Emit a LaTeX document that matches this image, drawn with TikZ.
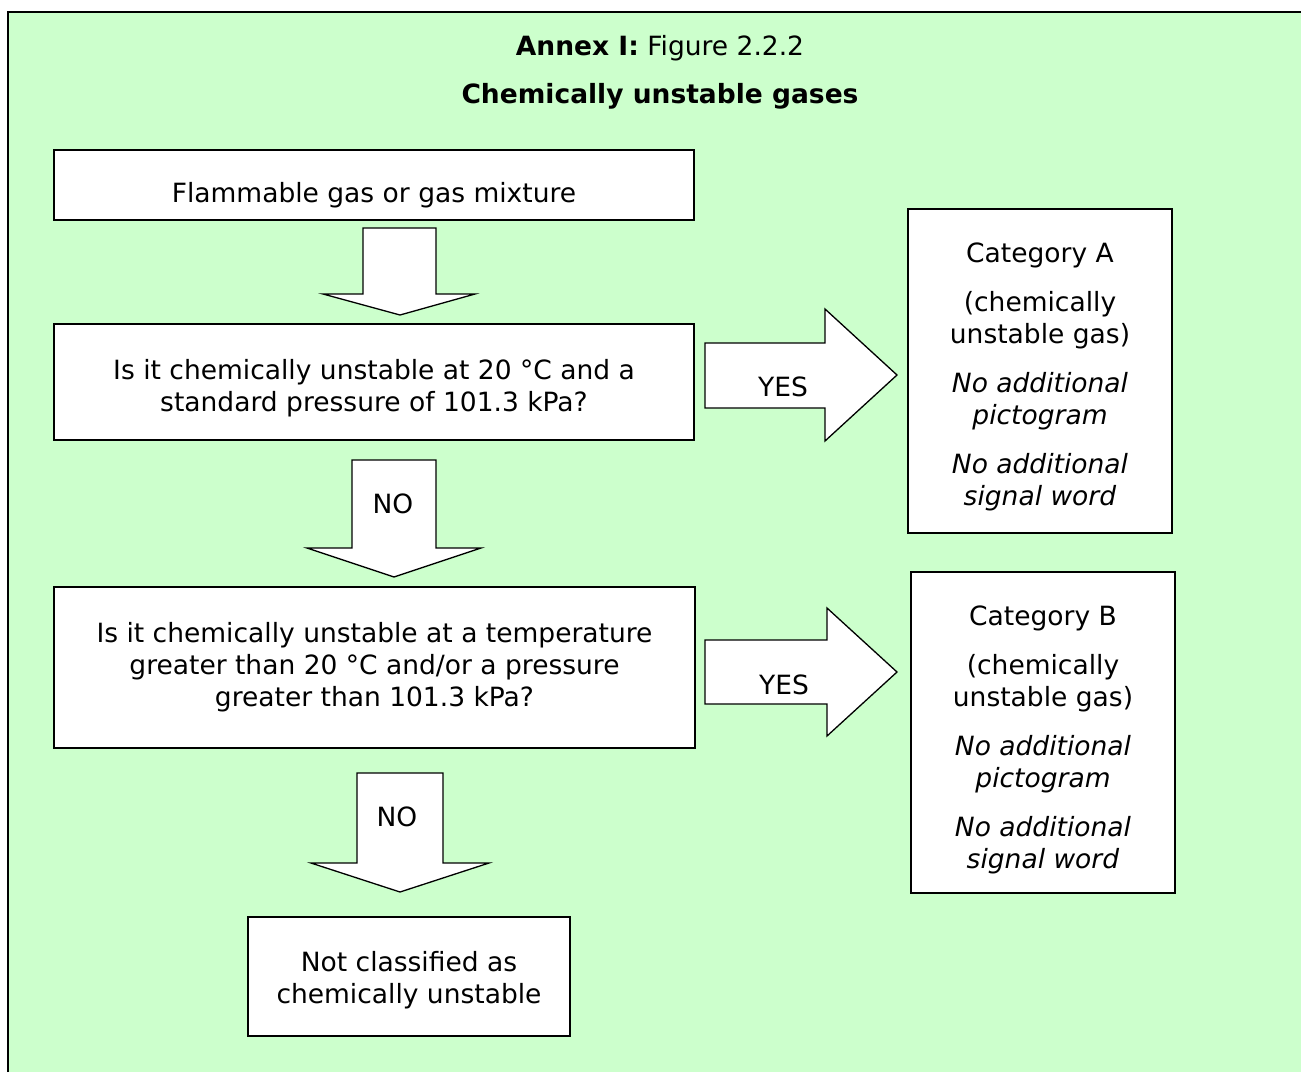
\documentclass[tikz,border=0pt]{standalone}
\usepackage{fontspec}
\setmainfont{DejaVu Sans}
\definecolor{bggreen}{RGB}{204,255,204}
\newcommand\fsz{\fontsize{26.5}{32}\selectfont}
\newcommand\dnrule[1]{\rule{0pt}{#1}}
\begin{document}
\begin{tikzpicture}[x=1pt,y=-1pt,
  box/.style={draw=black,line width=1.6pt,fill=white,inner sep=0pt,align=center,font=\fsz},
  blockarrow/.style={draw=black,line width=1.3pt,fill=white,line join=miter},
  lbl/.style={font=\fsz,inner sep=0pt,anchor=base},
  ttl/.style={font=\fsz,inner sep=0pt,anchor=base}]
\useasboundingbox (0,0) rectangle (1301,1072);
% background frame
\fill[bggreen] (8,12) rectangle (1301,1072);
\draw[line width=2pt] (8,1072) -- (8,12) -- (1301,12);
% titles
\node[ttl] (t1) at (660,55) {\textbf{Annex I:} Figure 2.2.2};
\node[ttl] (t2) at (660,103) {\textbf{Chemically unstable gases}};
% boxes
\node[box,minimum width=640pt,minimum height=70pt] (b1) at (374,185) {\dnrule{40pt}Flammable gas or gas mixture};
\node[box,minimum width=640pt,minimum height=116pt] (b2) at (374,382) {\dnrule{32pt}Is it chemically unstable at 20 °C and a\\standard pressure of 101.3 kPa?};
\node[box,minimum width=641pt,minimum height=161pt] (b3) at (374.5,667.5) {Is it chemically unstable at a temperature\\greater than 20 °C and/or a pressure\\greater than 101.3 kPa?};
\node[box,minimum width=322pt,minimum height=119pt] (b4) at (409,976.5) {\dnrule{28pt}Not classified as\\chemically unstable};
\node[box,minimum width=264pt,minimum height=324pt] (ca) at (1040,371) {\dnrule{31pt}Category A\\[17pt](chemically\\unstable gas)\\[17pt]\textit{No additional}\\\textit{pictogram}\\[17pt]\textit{No additional}\\\textit{signal word}};
\node[box,minimum width=264pt,minimum height=321pt] (cb) at (1043,732.5) {\dnrule{35pt}Category B\\[17pt](chemically\\unstable gas)\\[17pt]\textit{No additional}\\\textit{pictogram}\\[17pt]\textit{No additional}\\\textit{signal word}};
% block arrows
\draw[blockarrow] (363,228) -- (436,228) -- (436,294) -- (475,294) -- (400,315) -- (323,294) -- (363,294) -- cycle;
\draw[blockarrow] (352,460) -- (436,460) -- (436,548) -- (481,548) -- (394,577) -- (307,548) -- (352,548) -- cycle;
\draw[blockarrow] (357,773) -- (443,773) -- (443,863) -- (489,863) -- (400,892) -- (311,863) -- (357,863) -- cycle;
\draw[blockarrow] (705,343) -- (825,343) -- (825,309) -- (897,375) -- (825,441) -- (825,408) -- (705,408) -- cycle;
\draw[blockarrow] (705,640) -- (827,640) -- (827,608) -- (897,672) -- (827,736) -- (827,704) -- (705,704) -- cycle;
% arrow labels
\node[lbl] (no1) at (393,513) {NO};
\node[lbl] (no2) at (397,826) {NO};
\node[lbl] (yes1) at (783,396) {YES};
\node[lbl] (yes2) at (784,694) {YES};
\end{tikzpicture}
\end{document}
